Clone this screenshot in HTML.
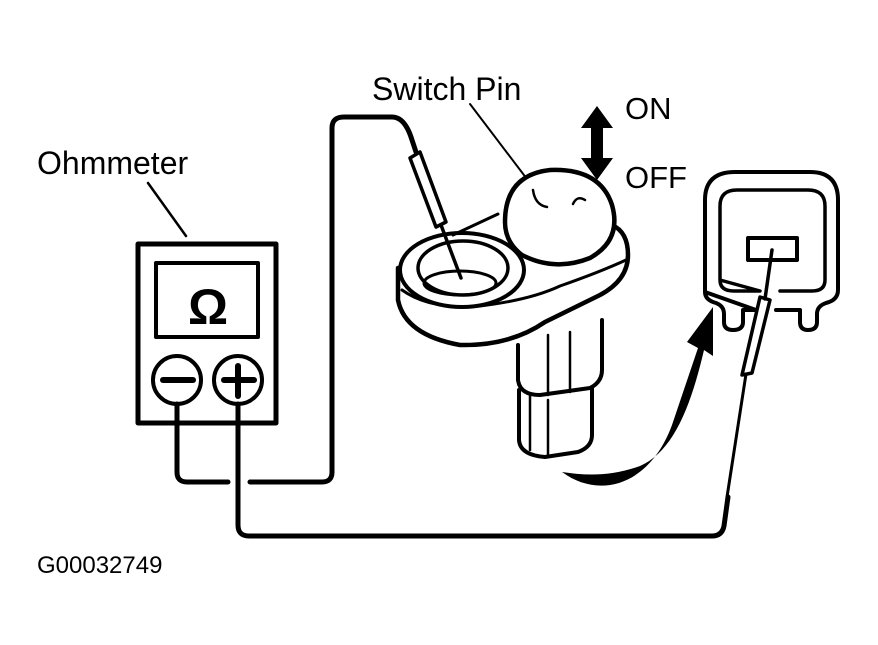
<!DOCTYPE html>
<html><head><style>
html,body{margin:0;padding:0;background:#fff;}
svg{display:block;}
text{font-family:"Liberation Sans",sans-serif;fill:#000;}
</style></head><body>
<svg width="878" height="645" viewBox="0 0 878 645" xmlns="http://www.w3.org/2000/svg">
<g fill="none" stroke="#000" stroke-linecap="round" stroke-linejoin="round">
<!-- Ohmmeter -->
<rect x="138" y="244" width="138" height="179" stroke-width="5"/>
<rect x="156" y="263" width="102" height="74" stroke-width="4"/>
<circle cx="177" cy="380" r="24" stroke-width="4"/>
<circle cx="238" cy="380" r="24" stroke-width="4"/>
<line x1="163" y1="380" x2="193" y2="380" stroke-width="6"/>
<line x1="224" y1="380" x2="254" y2="380" stroke-width="6"/>
<line x1="238" y1="366" x2="238" y2="396" stroke-width="6"/>
<!-- leader lines -->
<line x1="148" y1="183" x2="186" y2="236" stroke-width="2.5"/>
<line x1="470" y1="104" x2="530" y2="183" stroke-width="2"/>
<!-- wires -->
<path d="M177 404 V472 Q177 482 187 482 H228 M250 482 H322 Q332 482 332 472 V128 Q332 117 344 117 H392 Q405 117 412 140 L416 152" stroke-width="5"/>
<path d="M238 404 V525 Q238 536 249 536 H712 Q722 536 724 526 L728 497" stroke-width="5"/>
<!-- switch base plate -->
<path d="M398 268 V300 Q405 335 460 345 Q510 346 545 322 L600 295 Q628 280 628 255 Q628 232 612 225" stroke-width="4.5"/>
<path d="M402 290 Q430 310 480 306 Q530 300 560 286 Q600 272 626 260" stroke-width="3"/>
<ellipse cx="462" cy="270" rx="62" ry="37" stroke-width="4" fill="#fff"/>
<ellipse cx="463" cy="268" rx="45" ry="27" stroke-width="3.5"/>
<ellipse cx="460" cy="283" rx="36" ry="12" stroke-width="3"/>
<path d="M453 235 L498 214" stroke-width="3"/>
<!-- knob -->
<path d="M505 222 Q505 175 550 170 Q600 168 612 205 Q622 240 590 258 Q555 272 522 255 Q505 242 505 222 Z" stroke-width="4.5" fill="#fff"/>
<path d="M533 190 Q535 205 547 207 M585 200 Q577 195 573 204" stroke-width="2.5"/>
<!-- left probe -->
<path d="M410 158 L420 152 L446 222 L436 227 Z" stroke-width="3.5" fill="#fff"/>
<line x1="441" y1="225" x2="461" y2="278" stroke-width="3.5"/>
<!-- body -->
<path d="M518 345 L518 380 Q520 395 540 395 L590 388 Q602 382 602 370 L602 320" stroke-width="4"/>
<line x1="548" y1="335" x2="548" y2="395" stroke-width="2.5"/>
<line x1="570" y1="332" x2="570" y2="392" stroke-width="2.5"/>
<path d="M519 390 L519 440 Q520 455 545 457 L578 452 Q592 447 592 435 L592 388" stroke-width="4"/>
<line x1="530" y1="395" x2="530" y2="450" stroke-width="2.5"/>
<line x1="548" y1="400" x2="548" y2="455" stroke-width="2.5"/>
<!-- connector -->
<path d="M705 292 V200 Q705 172 735 172 H810 Q838 172 838 200 V290 Q838 300 826 303 Q817 306 817 314 V322 Q817 330 808 330 Q800 330 800 322 V310 H776 M756 310 H743 V322 Q743 330 733 330 Q724 330 724 322 V314 Q724 306 716 303 Q705 300 705 292 Z" stroke-width="4"/>
<path d="M720 280 V206 Q720 190 737 190 H808 Q825 190 825 206 V280 Q825 291 812 291 H780 M760 291 H734 Q720 291 720 280 Z" stroke-width="3.5"/>
<rect x="748" y="238" width="49" height="22" stroke-width="4"/>
<!-- right probe -->
<path d="M742 375 L752 373 L770 300 L760 297 Z" stroke-width="3.5" fill="#fff"/>
<line x1="765" y1="299" x2="772" y2="250" stroke-width="3.5"/>
<line x1="746" y1="374" x2="727" y2="497" stroke-width="3"/>
</g>
<!-- ON/OFF arrow -->
<path d="M597 106 L613 128 L603 128 L603 158 L613 158 L597 180 L581 158 L591 158 L591 128 L581 128 Z" fill="#000"/>
<!-- curved arrow -->
<path d="M562 472 C600 500 650 485 672 425 L698 348 L687 342 L713 307 L713 356 L704 350 C690 410 672 452 640 466 C612 476 588 476 562 472 Z" fill="#000"/>
<text x="372" y="100" font-size="32">Switch Pin</text>
<text x="625" y="119" font-size="31">ON</text>
<text x="625" y="188" font-size="31">OFF</text>
<text x="37" y="174" font-size="32">Ohmmeter</text>
<text x="208" y="324" font-size="50" font-weight="bold" text-anchor="middle">Ω</text>
<text x="37" y="573" font-size="24">G00032749</text>
</svg>
</body></html>
